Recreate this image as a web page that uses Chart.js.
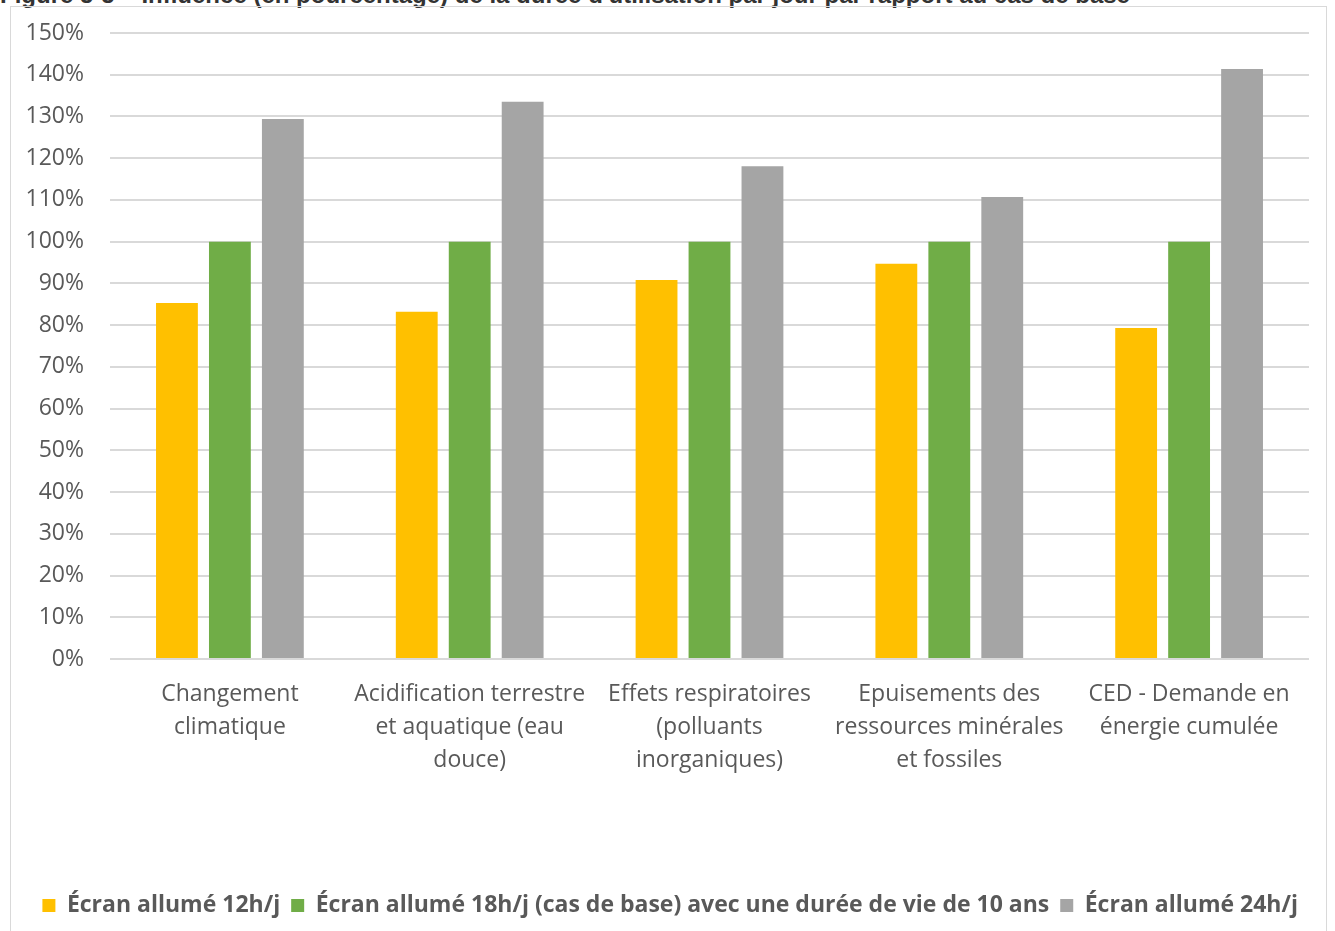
<!DOCTYPE html>
<html>
<head>
<meta charset="utf-8">
<script src="https://cdn.jsdelivr.net/npm/chart.js@4/dist/chart.umd.min.js"></script>
<style>
  html, body { margin: 0; padding: 0; background: #fff; overflow: hidden; }
  body { width: 1335px; height: 931px; position: relative; }
  #title {
    position: absolute; left: 0; top: -17px; white-space: nowrap;
    font: bold 24px "Liberation Sans", Arial, sans-serif; color: #333; line-height: 24px;
  }
  #frame {
    position: absolute; left: 10px; top: 6px; width: 1317px; height: 930px;
    border: 1px solid #d9d9d9; box-sizing: border-box;
  }
  #wrap { position: absolute; left: 11px; top: 7px; width: 1316px; height: 924px; }
</style>
</head>
<body>
<div id="title">Figure 5-5 – Influence (en pourcentage) de la durée d'utilisation par jour par rapport au cas de base</div>
<div id="frame"></div>
<div id="wrap"><canvas id="chart"></canvas></div>
<script>
// DATA
const categories = [
    ['Changement', 'climatique'],
    ['Acidification terrestre', 'et aquatique (eau', 'douce)'],
    ['Effets respiratoires', '(polluants', 'inorganiques)'],
    ['Epuisements des', 'ressources minérales', 'et fossiles'],
    ['CED - Demande en', 'énergie cumulée']
];
const seriesNames = [
    'Écran allumé 12h/j',
    'Écran allumé 18h/j (cas de base) avec une durée de vie de 10 ans',
    'Écran allumé 24h/j'
];
const ecran12h = [85.3, 83.2, 90.8, 94.7, 79.3];
const ecran18h = [100, 100, 100, 100, 100];
const ecran24h = [129.4, 133.5, 118.1, 110.7, 141.4];
const yTicks = [0, 10, 20, 30, 40, 50, 60, 70, 80, 90, 100, 110, 120, 130, 140, 150];

const colors = ['#FFC000', '#70AD47', '#A5A5A5'];
const FONT = '"Open Sans", sans-serif';
const TEXT = '#595959';

function makeSet(i, values) {
    return {
        label: seriesNames[i],
        data: values,
        backgroundColor: colors[i],
        borderWidth: 0,
        categoryPercentage: 0.6625,
        barPercentage: 0.79
    };
}

const ctx = document.getElementById('chart').getContext('2d');
new Chart(ctx, {
    type: 'bar',
    data: {
        labels: categories,
        datasets: [makeSet(0, ecran12h), makeSet(1, ecran18h), makeSet(2, ecran24h)]
    },
    options: {
        responsive: true,
        maintainAspectRatio: false,
        animation: false,
        layout: { padding: { top: 26, right: 18, bottom: 4, left: 0 } },
        scales: {
            x: {
                grid: { display: false },
                border: { display: false },
                ticks: {
                    color: TEXT, font: { family: FONT, size: 23, lineHeight: 1.435 },
                    padding: 11, maxRotation: 0, autoSkip: false
                },
                afterFit: s => { s.height = 224; }
            },
            y: {
                min: 0, max: 150,
                afterBuildTicks: s => { s.ticks = yTicks.map(v => ({ value: v })); },
                grid: { color: '#D9D9D9', lineWidth: 2, drawTicks: false },
                border: { display: false },
                ticks: {
                    color: TEXT, font: { family: FONT, size: 23 },
                    padding: 26, callback: v => v + '%'
                },
                afterFit: s => { s.width = 99; s.paddingTop = 0; s.paddingBottom = 0; }
            }
        },
        plugins: {
            legend: {
                position: 'bottom',
                align: 'end',
                labels: {
                    color: TEXT, boxWidth: 13, boxHeight: 13, padding: 11,
                    font: { family: FONT, size: 23, weight: 'bold' }
                }
            },
            tooltip: { enabled: false }
        }
    }
});
</script>
</body>
</html>
